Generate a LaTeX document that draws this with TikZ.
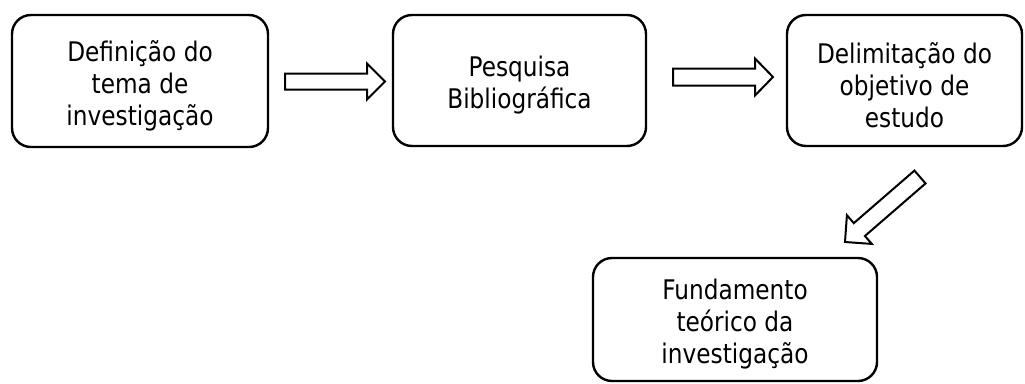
\documentclass[tikz,border=0pt]{standalone}
\usepackage{fontspec}
\setmainfont{DejaVu Sans}[FakeStretch=0.86]
\usetikzlibrary{calc}
\tikzset{
  box/.style={draw=black, line width=2.4pt, rounded corners=19pt, inner sep=0pt},
  txt/.style={align=center, font=\fontsize{27}{32}\selectfont, inner sep=0pt},
  blockarr/.style={draw=black, line width=2pt, fill=white, line join=miter},
}
% tail, tip, shaft half width, head half width, head length
\newcommand\blockarrow[5]{%
  \coordinate (#1-h) at ($(#2)!#5!(#1)$);
  \draw[blockarr] ($(#1)!#3!90:(#2)$) -- ($(#1-h)!#3!90:(#2)$) -- ($(#1-h)!#4!90:(#2)$)
    -- (#2) -- ($(#1-h)!#4!-90:(#2)$) -- ($(#1-h)!#3!-90:(#2)$) -- ($(#1)!#3!-90:(#2)$) -- cycle;}
\begin{document}
\begin{tikzpicture}[x=1pt, y=-1pt]
  \useasboundingbox (0,0) rectangle (1025,383);
  \node[box, minimum width=256pt, minimum height=132pt] (b1) at (140,81) {};
  \node[box, minimum width=253pt, minimum height=131pt] (b2) at (519.5,80.5) {};
  \node[box, minimum width=235pt, minimum height=131pt] (b3) at (904.5,80.5) {};
  \node[box, minimum width=284pt, minimum height=123pt] (b4) at (735,319.5) {};
  \node[txt] (t1) at ([yshift=-5pt]b1.center) {Definição do\\tema de\\investigação};
  \node[txt] (t2) at ([yshift=-5pt]b2.center) {Pesquisa\\Bibliográfica};
  \node[txt] (t3) at ([yshift=-5pt]b3.center) {Delimitação do\\objetivo de\\estudo};
  \node[txt] (t4) at ([yshift=-5pt]b4.center) {Fundamento\\teórico da\\investigação};
  \coordinate (a1t) at (285,81.5);
  \coordinate (a1p) at (385,81.5);
  \coordinate (a2t) at (673,77);
  \coordinate (a2p) at (773,77);
  \coordinate (a3t) at (920,177);
  \coordinate (a3p) at (845,242);
  \blockarrow{a1t}{a1p}{8pt}{18pt}{18pt}
  \blockarrow{a2t}{a2p}{8.5pt}{18.5pt}{18pt}
  \blockarrow{a3t}{a3p}{8.5pt}{19pt}{19pt}
\end{tikzpicture}
\end{document}
